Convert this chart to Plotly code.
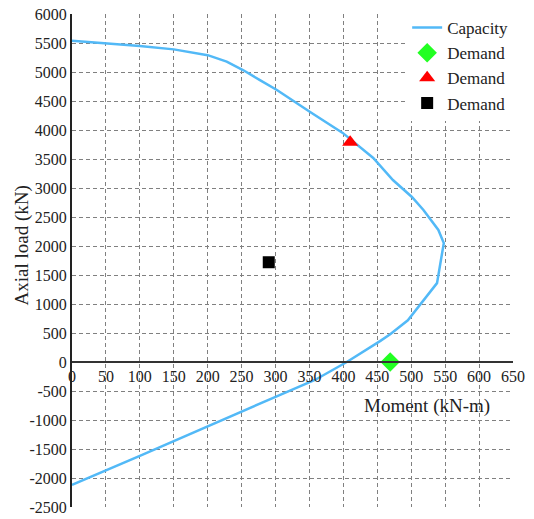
import plotly.graph_objects as go

# Capacity curve (moment kN-m, axial kN)
cap_moment = [0, 50, 100, 150, 200, 228, 252, 277, 302, 351, 399, 444, 473, 501, 518, 540, 548, 538, 495, 469, 454, 405, 358, 300, 200, 100, 0]
cap_axial = [5540, 5495, 5450, 5390, 5290, 5180, 5034, 4860, 4690, 4310, 3950, 3517, 3138, 2845, 2620, 2276, 2050, 1360, 720, 480, 360, 0, -310, -600, -1115, -1620, -2120]

# Demand points
d1_moment, d1_axial = [469], [0]
d2_moment, d2_axial = [410], [3790]
d3_moment, d3_axial = [290], [1720]

x_ticks = list(range(0, 651, 50))
y_ticks = list(range(-2500, 6001, 500))

font = "Liberation Serif"

fig = go.Figure()
fig.add_trace(go.Scatter(x=cap_moment, y=cap_axial, mode="lines", name="Capacity",
                         line=dict(color="#52b9f7", width=2.5)))
fig.add_trace(go.Scatter(x=d1_moment, y=d1_axial, mode="markers", name="Demand",
                         marker=dict(symbol="diamond", color="#22ff22", size=15)))
fig.add_trace(go.Scatter(x=d2_moment, y=d2_axial, mode="markers", name="Demand",
                         marker=dict(symbol="triangle-up", color="#ff0000", size=14)))
fig.add_trace(go.Scatter(x=d3_moment, y=d3_axial, mode="markers", name="Demand",
                         marker=dict(symbol="square", color="#000000", size=12)))

ymin, ymax = -2500, 6000
xpos = (0 - ymin) / (ymax - ymin)

fig.update_layout(
    width=518, height=511,
    margin=dict(l=64, r=13, t=6, b=12, autoexpand=False),
    paper_bgcolor="white", plot_bgcolor="white",
    font=dict(family=font, size=16, color="#222"),
    showlegend=True,
    legend=dict(x=0.76, y=1.008, xanchor="left", yanchor="top",
                bgcolor="white", font=dict(size=17, family=font, color="#222"),
                tracegroupgap=0, itemwidth=30),
    xaxis=dict(range=[0, 650], tickvals=x_ticks, ticktext=[str(v) for v in x_ticks],
               showgrid=True, gridcolor="#808080", griddash="4px,3px", gridwidth=1,
               showline=True, linecolor="#333", linewidth=2,
               anchor="free", position=xpos, zeroline=False, automargin=False,
               ticklabeloverflow="allow",
               ticks="", tickfont=dict(size=16, family=font, color="#222")),
    yaxis=dict(range=[ymin, ymax], tickvals=y_ticks, ticktext=[str(v) for v in y_ticks],
               showgrid=True, gridcolor="#808080", griddash="4px,3px", gridwidth=1,
               showline=True, linecolor="#222", linewidth=2, zeroline=False, automargin=False,
               ticklabeloverflow="allow",
               ticks="", tickfont=dict(size=16, family=font, color="#222")),
    annotations=[
        dict(text="Moment (kN-m)", x=0.805, y=0.205, xref="paper", yref="paper",
             xanchor="center", yanchor="middle",
             showarrow=False, font=dict(size=19, family=font, color="#222")),
        dict(text="Axial load (kN)", x=-0.113, y=0.531, xref="paper", yref="paper",
             xanchor="center", yanchor="middle",
             showarrow=False, textangle=-90, font=dict(size=19, family=font, color="#222")),
    ],
)

fig.write_html("out.html")
